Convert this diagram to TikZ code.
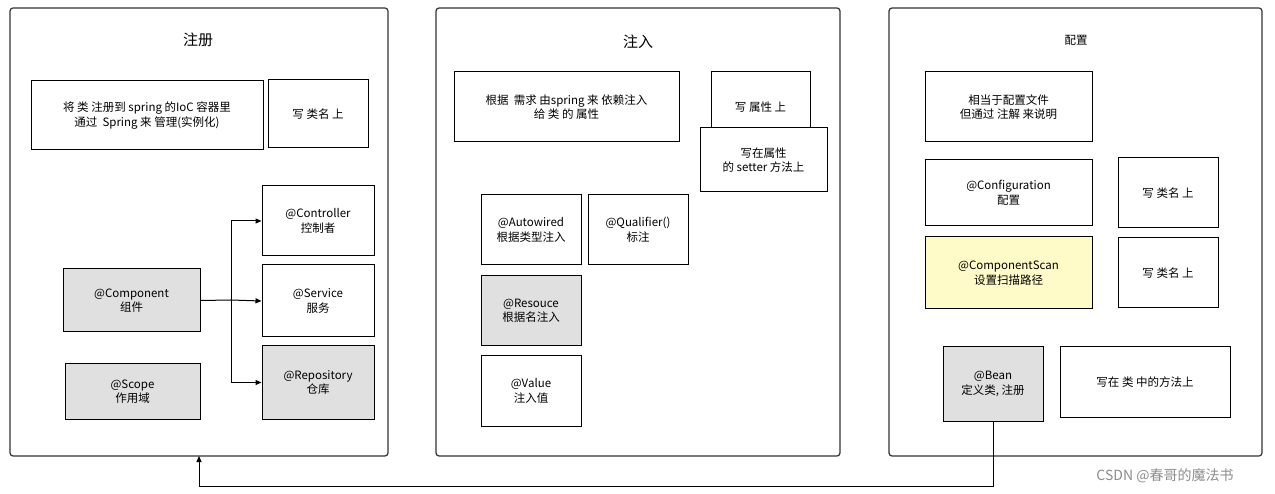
\documentclass[tikz,border=0pt]{standalone}
\usepackage{fontspec}
\setmainfont{Noto Sans CJK SC}
\usetikzlibrary{arrows.meta}
\definecolor{gb}{HTML}{E0E0E0}
\definecolor{yb}{HTML}{FFFBC8}
\begin{document}
\begin{tikzpicture}[x=1pt,y=-1pt,
  panel/.style={draw=black!80,line width=1.2pt,rounded corners=3pt},
  bx/.style={draw=black,line width=1pt,fill=white,align=center,font=\fontsize{11.5}{14.5}\selectfont,inner sep=0pt},
  ttl/.style={font=\fontsize{15}{17}\selectfont},
  arr/.style={-{Triangle[length=6pt,width=5pt]},line width=1pt}]
\useasboundingbox (0,0) rectangle (1275,494);
\draw[panel] (10,8) rectangle (388,456);
\draw[panel] (436,8) rectangle (840,456);
\draw[panel] (889,8) rectangle (1262,456);
\node[ttl] (t1) at (198,40) {注册};
\node[ttl] (t2) at (638,42) {注入};
\node[font=\fontsize{11.5}{14}\selectfont] (t3) at (1076,40) {配置};
\newcommand\bb[6][]{\node[bx,#1,minimum width=#4-#2,minimum height=#5-#3] (#6) at ({(#2+#4)/2},{(#3+#5)/2})}
\bb{31}{81}{263}{150}{a1} {将 类 注册到 spring 的IoC 容器里\\通过\ \ Spring 来 管理(实例化)};
\bb{268}{80}{368}{148}{a2} {写 类名 上};
\bb{262}{186}{374}{256}{ctl} {@Controller\\控制者};
\bb{262}{265}{374}{337}{svc} {@Service\\服务};
\bb[fill=gb]{262}{346}{374}{419}{rep} {@Repository\\仓库};
\bb[fill=gb]{63}{269}{200}{332}{cmp} {@Component\\组件};
\bb[fill=gb]{65}{364}{200}{419}{scp} {@Scope\\作用域};
\coordinate (j) at (231,300);
\draw[line width=1pt] (cmp.east) -- (j);
\draw[arr] (j) |- (ctl.west);
\draw[arr] (j) -- (svc.west);
\draw[arr] (j) |- (rep.west);
\bb{454}{72}{679}{142}{b1} {根据\ \ 需求 由spring 来 依赖注入\\给 类 的 属性};
\bb{711}{72}{810}{142}{b2} {写 属性 上};
\bb{700}{128}{827}{192}{b3} {写在属性\\的 setter 方法上};
\bb{481}{195}{581}{265}{aw} {@Autowired\\根据类型注入};
\bb{588}{195}{688}{265}{ql} {@Qualifier()\\标注};
\bb[fill=gb]{481}{276}{581}{346}{rs} {@Resouce\\根据名注入};
\bb{481}{356}{581}{426}{vl} {@Value\\注入值};
\bb{925}{72}{1092}{142}{c1} {相当于配置文件\\但通过 注解 来说明};
\bb{925}{160}{1092}{226}{cfg} {@Configuration\\配置};
\bb{1118}{158}{1218}{228}{c2} {写 类名 上};
\bb[fill=yb]{925}{237}{1092}{309}{cs} {@ComponentScan\\设置扫描路径};
\bb{1118}{238}{1218}{308}{c3} {写 类名 上};
\bb[fill=gb]{943}{347}{1043}{421}{bean} {@Bean\\定义类, 注册};
\bb{1060}{347}{1230}{417}{c4} {写在 类 中的方法上};
\coordinate (d1) at (993,486);
\coordinate (d2) at (199,486);
\coordinate (p1) at (199,456);
\draw[arr] (bean.south -| d1) -- (d1) -- (d2) -- (p1);
\node[text=black!45,font=\fontsize{14}{16}\selectfont] (wm) at (1165,476) {CSDN @春哥的魔法书};
\end{tikzpicture}
\end{document}
